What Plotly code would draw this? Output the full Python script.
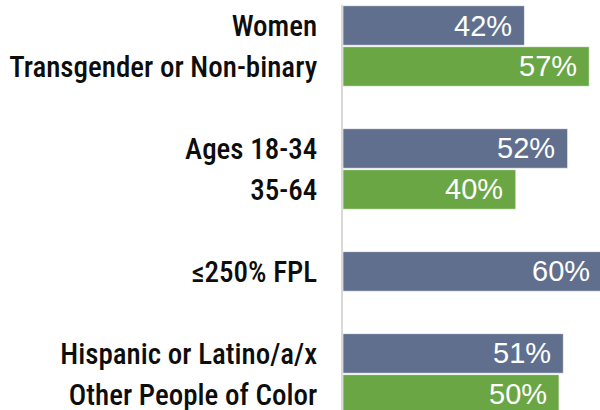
import plotly.graph_objects as go

categories = ["Women", "Transgender or Non-binary", " ",
              "Ages 18-34", "35-64", "  ",
              "≤250% FPL", "   ",
              "Hispanic or Latino/a/x", "Other People of Color"]
blue_cats = ["Women", "Ages 18-34", "≤250% FPL", "Hispanic or Latino/a/x"]
blue_vals = [42, 52, 60, 51]
green_cats = ["Transgender or Non-binary", "35-64", "Other People of Color"]
green_vals = [57, 40, 50]

BLUE = "#606f8d"
GREEN = "#6aa644"
LABEL_FONT = "Roboto Condensed, DejaVu Sans Condensed, sans-serif"
VALUE_FONT = "Liberation Sans, Arial, sans-serif"

fig = go.Figure()
for cats, vals, col in [(blue_cats, blue_vals, BLUE), (green_cats, green_vals, GREEN)]:
    fig.add_trace(go.Bar(
        y=cats, x=vals, orientation="h",
        marker=dict(color=col, line=dict(color="rgba(255,255,255,0.6)", width=1)),
        showlegend=False, hoverinfo="skip",
    ))
    for c, v in zip(cats, vals):
        # anchor one unit inside the bar end so labels stay visible when the bar runs past the edge
        fig.add_annotation(
            x=v - 1, y=c, xref="x", yref="y",
            text=f"{v}%", showarrow=False,
            xanchor="right", yanchor="middle", xshift=-6,
            font=dict(family=VALUE_FONT, size=29, color="white"),
        )

fig.update_layout(
    width=600, height=410,
    margin=dict(l=343, r=0, t=5, b=0),
    paper_bgcolor="white", plot_bgcolor="white",
    barmode="overlay", bargap=0.035,
    xaxis=dict(range=[0, 59.5], showgrid=False, zeroline=False,
               showticklabels=False, showline=False, fixedrange=True),
    yaxis=dict(type="category", categoryorder="array", categoryarray=categories,
               range=[9.38, -0.5], showgrid=False, zeroline=False,
               showline=True, linecolor="#d9d9d9", linewidth=2,
               ticks="", ticklabelstandoff=18, automargin=False, fixedrange=True,
               tickfont=dict(family=LABEL_FONT, size=29, color="#0d0d0d", weight=500)),
)
fig.write_html("out.html", config={"displayModeBar": False, "staticPlot": True},
               post_script="document.body.style.margin='0px';")
